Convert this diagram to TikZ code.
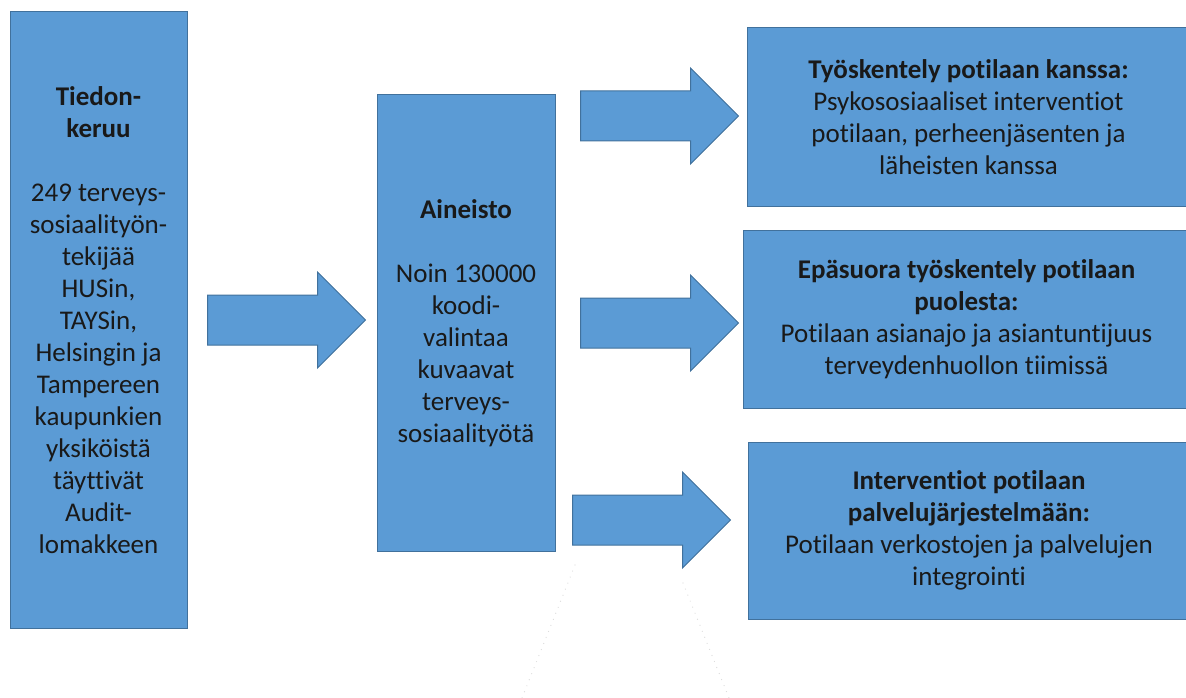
\documentclass[tikz,border=0pt]{standalone}
\usepackage{fontspec}
\setmainfont[Ligatures=NoCommon]{Carlito}
\usepackage{tikz}
\usetikzlibrary{shapes.arrows}
\definecolor{boxblue}{HTML}{5B9BD5}
\definecolor{boxedge}{HTML}{41719C}

\begin{document}
\begin{tikzpicture}[x=1pt, y=-1pt,
	box/.style={draw=boxedge, fill=boxblue, line width=1pt, align=center, inner sep=0pt, text=black!90,
		font=\fontsize{27}{32}\selectfont},
	bigarrow/.style={single arrow, draw=boxedge, fill=boxblue, line width=1pt, inner xsep=0pt, inner ysep=24.5pt,
		minimum height=158pt, minimum width=95pt, single arrow head extend=23pt, anchor=tail},
	faintdots/.style={gray!30, line width=1.2pt, line cap=round, dash pattern=on 0pt off 6.5pt}]
	\useasboundingbox (0,0) rectangle (1186,698);
	\node[box, minimum width=177pt, minimum height=616pt] (tiedon) at (98.5,320)
	{\textbf{Tiedon-}\\\textbf{keruu}\\[32pt]249 terveys-\\sosiaalityön-\\tekijää\\HUSin,\\TAYSin,\\Helsingin ja\\Tampereen\\kaupunkien\\yksiköistä\\täyttivät\\Audit-\\lomakkeen};
	\node[box, minimum width=178pt, minimum height=456pt] (aineisto) at (466,323)
	{\textbf{Aineisto}\\[32pt]Noin 130000\\koodi-\\valintaa\\kuvaavat\\terveys-\\sosiaalityötä};
	\node[box, minimum width=443pt, minimum height=178pt] (kanssa) at (968.5,117)
	{\textbf{Työskentely potilaan kanssa:}\\Psykososiaaliset interventiot\\potilaan, perheenjäsenten ja\\läheisten kanssa};
	\node[box, minimum width=447pt, minimum height=178pt] (puolesta) at (966.5,319)
	{\textbf{Epäsuora työskentely potilaan}\\\textbf{puolesta:}\\Potilaan asianajo ja asiantuntijuus\\terveydenhuollon tiimissä};
	\node[box, minimum width=442pt, minimum height=177pt] (palvelu) at (969,530.5)
	{\textbf{Interventiot potilaan}\\\textbf{palvelujärjestelmään:}\\Potilaan verkostojen ja palvelujen\\integrointi};
	\node[bigarrow] (a1) at (207,320) {};
	\node[bigarrow] (a2) at (580,116) {};
	\node[bigarrow] (a3) at (580,323) {};
	\node[bigarrow] (a4) at (572,520) {};
	\draw[faintdots] (575,565) -- (522,698);
	\draw[faintdots] (683,583) -- (729,698);
\end{tikzpicture}
\end{document}
